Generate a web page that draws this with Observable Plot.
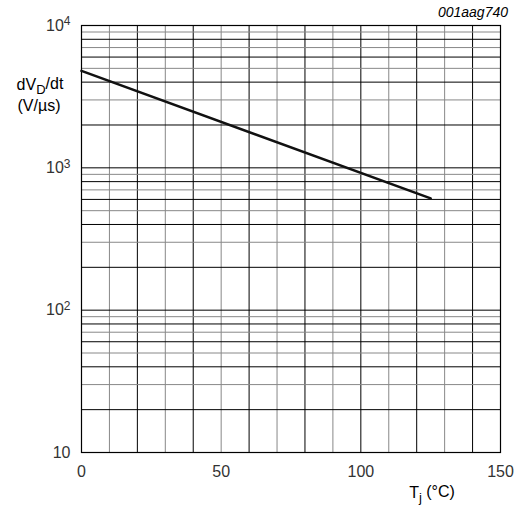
<!DOCTYPE html>
<html>
<head>
<meta charset="utf-8">
<script src="https://cdn.jsdelivr.net/npm/d3@7"></script>
<script src="https://cdn.jsdelivr.net/npm/@observablehq/plot@0.6"></script>
<style>
  html, body { margin: 0; padding: 0; background: #fff; }
  #chart { width: 532px; height: 506px; }
</style>
</head>
<body>
<div id="chart"></div>
<script>
// Data
const tempC = [0, 125];          // junction temperature Tj (°C)
const dvdt = [4800, 610];        // dVD/dt (V/µs)

const xTicks = [0, 50, 100, 150];
const yTicks = [10, 100, 1000, 10000];
const yTickExp = ["", "2", "3", "4"];

const xGrid = d3.range(10, 150, 10);
const yGrid = [];
for (const dec of [10, 100, 1000]) for (let m = 1; m <= 9; m++) if (!(dec === 10 && m === 1)) yGrid.push(dec * m);
yGrid.push(10000);

const data = tempC.map((t, i) => ({t, v: dvdt[i]}));

const chart = Plot.plot({
  width: 532,
  height: 506,
  marginLeft: 81,
  marginRight: 32,
  marginTop: 25,
  marginBottom: 54,
  style: {fontFamily: "'Liberation Sans', Arial, sans-serif", fontSize: "16px", color: "#333", background: "#fff"},
  x: {domain: [0, 150], ticks: xTicks, tickSize: 0, tickPadding: 13, label: null},
  y: {type: "log", domain: [10, 10000], ticks: yTicks, tickSize: 0, tickPadding: 11, label: null, tickFormat: d => "10"},
  marks: [
    Plot.ruleX(xGrid, {x: d => d, stroke: d => (d / 10) % 2 === 1 ? "#888" : "#000", strokeWidth: 1}),
    Plot.ruleY(yGrid, {y: d => d, stroke: d => {
      const m = Math.round(d / Math.pow(10, Math.floor(Math.log10(d) + 1e-9)));
      return m % 2 === 1 && m !== 1 ? "#888" : "#000";
    }, strokeWidth: 1}),
    Plot.frame({stroke: "#000", strokeWidth: 1.2}),
    Plot.line(data, {x: "t", y: "v", stroke: "#111", strokeWidth: 2.6})
  ]
});

const svg = d3.select(chart);
// superscripts on y tick labels (in tick order)
const yTexts = svg.selectAll("g[aria-label='y-axis tick label'] text").nodes();
yTexts.forEach((node, i) => {
  const e = yTickExp[i] || "";
  if (e) {
    const t = d3.select(node);
    t.text("10");
    t.append("tspan").attr("dy", "-0.45em").attr("font-size", "12px").text(e);
  }
});

// code label
svg.append("text").attr("x", 508).attr("y", 17).attr("text-anchor", "end")
  .attr("font-style", "italic").attr("font-size", "14px").attr("fill", "#000")
  .attr("font-family", "'Liberation Sans', Arial, sans-serif").text("001aag740");

// y axis title
const yl = svg.append("g").attr("font-family", "'Liberation Sans', Arial, sans-serif").attr("font-size", "16px").attr("fill", "#000").attr("text-anchor", "middle");
const l1 = yl.append("text").attr("x", 40).attr("y", 90);
l1.append("tspan").text("dV");
l1.append("tspan").attr("dy", "0.3em").attr("font-size", "13px").text("D");
l1.append("tspan").attr("dy", "-0.3em").text("/dt");
yl.append("text").attr("x", 39).attr("y", 111).text("(V/\u00b5s)");

// x axis title
const xl = svg.append("text").attr("x", 432).attr("y", 498).attr("text-anchor", "middle")
  .attr("font-family", "'Liberation Sans', Arial, sans-serif").attr("font-size", "16px").attr("fill", "#000");
xl.append("tspan").text("T");
xl.append("tspan").attr("dy", "0.3em").attr("font-size", "13px").text("j");
xl.append("tspan").attr("dy", "-0.3em").text(" (\u00b0C)");

document.getElementById("chart").appendChild(chart);
</script>
</body>
</html>
